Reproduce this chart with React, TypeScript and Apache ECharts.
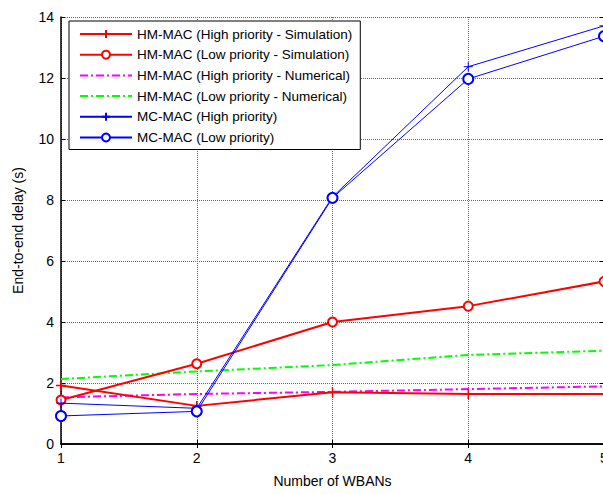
import React, { useEffect, useRef } from "react";
import * as echarts from "echarts";

const xValues = [1, 2, 3, 4, 5];
const hmHighSim = [1.92, 1.25, 1.7, 1.64, 1.64];
const hmLowSim = [1.44, 2.63, 4.0, 4.52, 5.33];
const hmHighNum = [1.53, 1.64, 1.71, 1.8, 1.89];
const hmLowNum = [2.13, 2.38, 2.59, 2.92, 3.06];
const mcHigh = [1.34, 1.17, 8.1, 12.37, 13.71];
const mcLow = [0.92, 1.07, 8.07, 11.97, 13.37];
const seriesNames = [
  "HM-MAC (High priority - Simulation)",
  "HM-MAC (Low priority - Simulation)",
  "HM-MAC (High priority - Numerical)",
  "HM-MAC (Low priority - Numerical)",
  "MC-MAC (High priority)",
  "MC-MAC (Low priority)",
];

const FONT = "Liberation Sans";
const PLUS = "path://M0,-5 L0,5 M-5,0 L5,0";

function pairs(ys: number[]) {
  return xValues.map((x, i) => [x, ys[i]]);
}

export default function App() {
  const ref = useRef<HTMLDivElement>(null);
  useEffect(() => {
    const chart = echarts.init(ref.current!, null, { renderer: "svg" });
    const gridLine = { show: true, lineStyle: { color: "#666", type: "dotted" as const, width: 1 } };
    chart.setOption({
      animation: false,
      backgroundColor: "#fff",
      textStyle: { fontFamily: FONT },
      grid: { left: 61, right: 16, top: 17, bottom: 50, containLabel: false },
      legend: {
        orient: "vertical",
        left: 69,
        top: 21,
        backgroundColor: "#fff",
        borderColor: "#000",
        borderWidth: 1,
        borderRadius: 0,
        padding: [6, 8, 5, 10],
        itemWidth: 52,
        itemHeight: 10,
        itemGap: 6.7,
        textStyle: { fontFamily: FONT, fontSize: 13.5, color: "#000" },
        data: seriesNames.map((n, i) =>
          i === 2 || i === 3 ? { name: n, itemStyle: { opacity: 0 } } : { name: n }
        ),
      },
      xAxis: [
        {
          type: "value",
          min: 1,
          max: 5,
          interval: 1,
          name: "Number of WBANs",
          nameLocation: "middle",
          nameGap: 30,
          nameTextStyle: { fontFamily: FONT, fontSize: 14, color: "#000" },
          axisLine: { show: true, lineStyle: { color: "#000", width: 1.5 } },
          axisTick: { show: true, inside: true, length: 4, lineStyle: { color: "#000" } },
          axisLabel: { fontFamily: FONT, fontSize: 14, color: "#000", margin: 7 },
          splitLine: gridLine,
        },
        {
          type: "value",
          position: "top",
          min: 1,
          max: 5,
          interval: 1,
          axisLine: { show: true, lineStyle: { color: "#000", width: 1.5 } },
          axisTick: { show: true, inside: true, length: 4, lineStyle: { color: "#000" } },
          axisLabel: { show: false },
          splitLine: { show: false },
        },
      ],
      yAxis: [
        {
          type: "value",
          min: 0,
          max: 14,
          interval: 2,
          name: "End-to-end delay (s)",
          nameLocation: "middle",
          nameGap: 36,
          nameTextStyle: { fontFamily: FONT, fontSize: 14, color: "#000" },
          axisLine: { show: true, lineStyle: { color: "#000", width: 1.5 } },
          axisTick: { show: true, inside: true, length: 4, lineStyle: { color: "#000" } },
          axisLabel: { fontFamily: FONT, fontSize: 14, color: "#000", margin: 7 },
          splitLine: gridLine,
        },
        {
          type: "value",
          position: "right",
          min: 0,
          max: 14,
          interval: 2,
          axisLine: { show: true, lineStyle: { color: "#000", width: 1.5 } },
          axisTick: { show: true, inside: true, length: 4, lineStyle: { color: "#000" } },
          axisLabel: { show: false },
          splitLine: { show: false },
        },
      ],
      series: [
        {
          name: seriesNames[0],
          type: "line",
          data: pairs(hmHighSim),
          symbol: PLUS,
          symbolSize: 10,
          lineStyle: { color: "#ff0000", width: 2 },
          itemStyle: { color: "#ff0000", borderColor: "#ff0000", borderWidth: 1.5 },
          z: 5,
        },
        {
          name: seriesNames[1],
          type: "line",
          data: pairs(hmLowSim),
          symbol: "emptyCircle",
          symbolSize: 9,
          lineStyle: { color: "#ff0000", width: 2 },
          itemStyle: { color: "#ff0000", borderColor: "#ff0000", borderWidth: 2 },
          z: 5,
        },
        {
          name: seriesNames[2],
          type: "line",
          data: pairs(hmHighNum),
          symbol: "none",
          lineStyle: { color: "#ff00ff", width: 2, type: [8, 3, 2, 3] },
          itemStyle: { color: "#ff00ff" },
          z: 4,
        },
        {
          name: seriesNames[3],
          type: "line",
          data: pairs(hmLowNum),
          symbol: "none",
          lineStyle: { color: "#00ff00", width: 2, type: [8, 3, 2, 3] },
          itemStyle: { color: "#00ff00" },
          z: 4,
        },
        {
          name: seriesNames[4],
          type: "line",
          data: pairs(mcHigh),
          symbol: PLUS,
          symbolSize: 9,
          lineStyle: { color: "#0000ff", width: 1 },
          itemStyle: { color: "#0000ff", borderColor: "#0000ff", borderWidth: 1 },
          z: 6,
        },
        {
          name: seriesNames[5],
          type: "line",
          data: pairs(mcLow),
          symbol: "emptyCircle",
          symbolSize: 10,
          lineStyle: { color: "#0000ff", width: 1 },
          itemStyle: { color: "#0000ff", borderColor: "#0000ff", borderWidth: 1 },
          z: 6,
        },
      ],
    });
    return () => chart.dispose();
  }, []);
  return (
    <div style={{ position: "fixed", left: 0, top: 0, width: 603, height: 494, overflow: "hidden", background: "#fff" }}>
      <div ref={ref} style={{ width: 620, height: 494 }} />
    </div>
  );
}
